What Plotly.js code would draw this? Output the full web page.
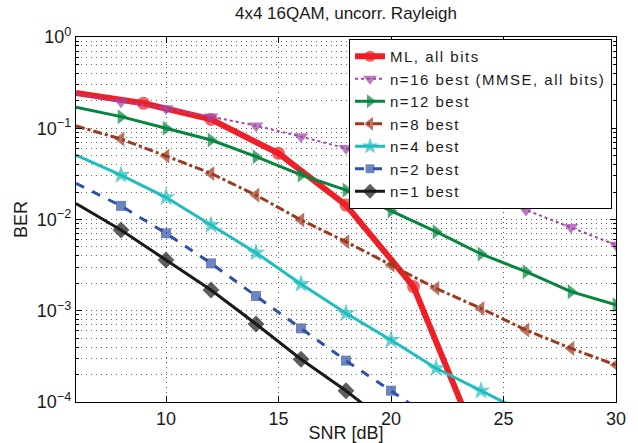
<!DOCTYPE html>
<html>
<head>
<meta charset="utf-8">
<script src="https://cdn.plot.ly/plotly-3.0.1.min.js"></script>
<style>
html,body{margin:0;padding:0;background:#fff;}
#chart{width:638px;height:443px;}
.legendtext{letter-spacing:1.5px;}
</style>
</head>
<body>
<div id="chart"></div>
<script>
// SNR grids (dB)
const snrML = [6, 9, 12, 15, 18, 21, 24];
const snr = [6, 8, 10, 12, 14, 16, 18, 20, 22, 24, 26, 28, 30];

// BER values
const berML   = [0.243, 0.1876, 0.125, 0.0531, 0.0144, 0.00184, 0.000029];
const berN16  = [0.235, 0.195, 0.165, 0.134, 0.1067, 0.081, 0.0603, 0.0437, 0.0309, 0.0204, 0.0127, 0.0082, 0.00526];
const berN12  = [0.17, 0.134, 0.1, 0.0743, 0.0488, 0.0308, 0.021, 0.0125, 0.00736, 0.00419, 0.00268, 0.00162, 0.00116];
const berN8   = [0.106, 0.0762, 0.0497, 0.032, 0.0185, 0.00988, 0.00571, 0.00317, 0.00176, 0.00106, 0.000615, 0.000387, 0.000254];
const berN4   = [0.0509, 0.0307, 0.0175, 0.0087, 0.00433, 0.00196, 0.000937, 0.000478, 0.000234, 0.000133, 0.000075];
const berN2   = [0.0249, 0.0141, 0.00706, 0.00331, 0.00145, 0.000641, 0.000284, 0.000133, 0.000061];
const berN1   = [0.015, 0.00767, 0.0036, 0.00169, 0.000716, 0.000294, 0.000133, 0.0000546];

const names = ['ML, all bits', 'n=16 best (MMSE, all bits)', 'n=12 best', 'n=8 best', 'n=4 best', 'n=2 best', 'n=1 best'];

const xTickVals = [10, 15, 20, 25, 30];
const yTickVals = [1, 0.1, 0.01, 0.001, 0.0001];
const yTickText = ['10<sup>0</sup>', '10<sup>−1</sup>', '10<sup>−2</sup>', '10<sup>−3</sup>', '10<sup>−4</sup>'];

function sizes(n, s) { const a = []; for (let i = 0; i < n; i++) a.push(i === 0 ? 0 : s); return a; }

function tr(x, y, name, color, width, dash, symbol, msize) {
  return {
    x: x, y: y, name: name, type: 'scatter', mode: 'lines+markers',
    line: {color: color, width: width, dash: dash},
    marker: {symbol: symbol, size: sizes(y.length, msize), color: color, line: {width: 0}},
    cliponaxis: true
  };
}

const data = [
  tr(snrML, berML, names[0], '#ee1f26', 6, 'solid', 'circle', 13),
  tr(snr, berN16, names[1], '#a443a6', 2, 'dot', 'triangle-down', 13),
  tr(snr.slice(0, berN12.length), berN12, names[2], '#05853f', 3, 'solid', 'triangle-right', 13),
  tr(snr.slice(0, berN8.length), berN8, names[3], '#9b3a1f', 3, 'dashdot', 'triangle-left', 13),
  tr(snr.slice(0, berN4.length), berN4, names[4], '#1fbdbd', 3, 'solid', 'star', 14),
  tr(snr.slice(0, berN2.length), berN2, names[5], '#3050a6', 3, 'dash', 'square', 10),
  tr(snr.slice(0, berN1.length), berN1, names[6], '#1a1a1a', 3, 'solid', 'diamond', 13)
];

const fontFam = 'Liberation Sans, Arial, Helvetica, sans-serif';
const gridDash = '1px,4px';
const layout = {
  width: 638, height: 443,
  margin: {l: 76, r: 22, t: 37, b: 41, pad: 0},
  paper_bgcolor: '#fff', plot_bgcolor: '#fff',
  font: {family: fontFam, size: 18, color: '#1a1a1a'},
  title: {text: '4x4 16QAM, uncorr. Rayleigh', font: {size: 17, family: fontFam, color: '#1a1a1a'},
          x: 0.5, xref: 'paper', xanchor: 'center', y: 0.97, yref: 'container', yanchor: 'middle'},
  showlegend: true,
  legend: {x: 0.5056, y: 0.9945, xanchor: 'left', yanchor: 'top', bgcolor: '#fff',
           bordercolor: '#000', borderwidth: 1, font: {size: 15, family: fontFam, color: '#1a1a1a'},
           itemwidth: 30, tracegroupgap: 0},
  xaxis: {
    type: 'linear', range: [6, 30], tickvals: xTickVals, ticktext: xTickVals.map(String),
    ticks: 'inside', ticklen: 6, tickcolor: '#000', showline: true, linecolor: '#000', linewidth: 1.2,
    mirror: 'ticks', showgrid: true, gridcolor: '#555', griddash: gridDash, gridwidth: 1,
    zeroline: false, tickfont: {size: 18},
    title: {text: 'SNR [dB]', font: {size: 18}, standoff: 0}
  },
  yaxis: {
    type: 'log', range: [-4, 0], tickvals: yTickVals, ticktext: yTickText,
    ticks: 'inside', ticklen: 6, tickcolor: '#000', showline: true, linecolor: '#000', linewidth: 1.2,
    mirror: 'ticks', showgrid: true, gridcolor: '#555', griddash: gridDash, gridwidth: 1,
    zeroline: false, tickfont: {size: 18},
    minor: {dtick: 'D1', showgrid: true, gridcolor: '#666', griddash: gridDash, gridwidth: 1,
            ticks: 'inside', ticklen: 3, tickcolor: '#000'},
    title: {text: 'BER', font: {size: 18}, standoff: 4}
  }
};

Plotly.newPlot('chart', data, layout, {displayModeBar: false, staticPlot: true});
</script>
</body>
</html>
